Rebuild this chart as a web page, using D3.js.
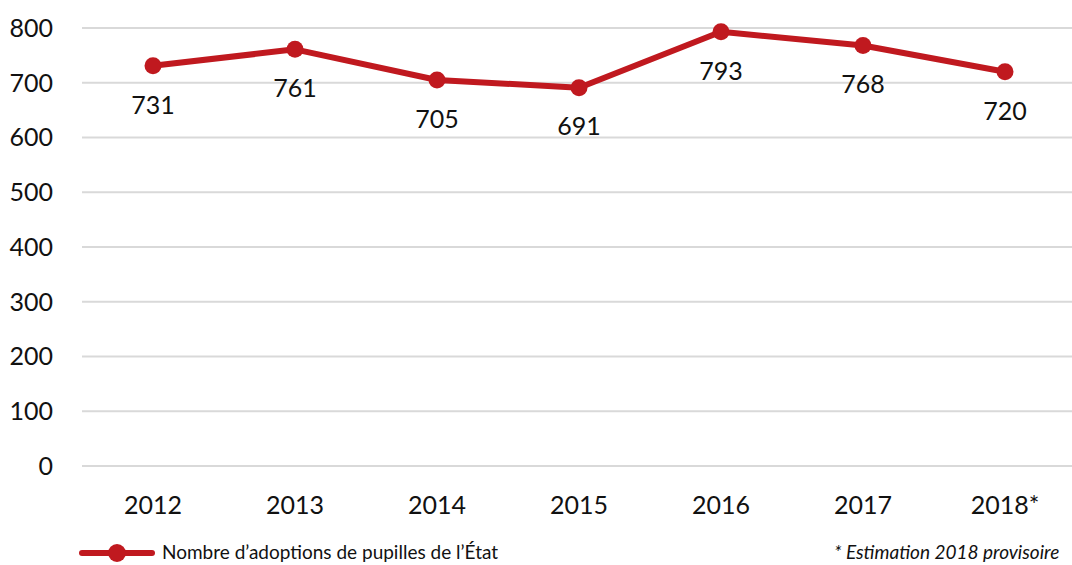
<!DOCTYPE html>
<html>
<head>
<meta charset="utf-8">
<script src="https://cdn.jsdelivr.net/npm/d3@7"></script>
<style>
  body { margin: 0; background: #fff; }
  text { font-family: Lato, "Open Sans", sans-serif; fill: #111; }
</style>
</head>
<body>
<script>
var w = 1072;
var h = 565;

// data
var years = ["2012", "2013", "2014", "2015", "2016", "2017", "2018*"];
var adoptions = [731, 761, 705, 691, 793, 768, 720];
var yTicks = [0, 100, 200, 300, 400, 500, 600, 700, 800];
var seriesName = "Nombre d\u2019adoptions de pupilles de l\u2019\u00c9tat";
var footnote = "* Estimation 2018 provisoire";

var red = "#c0191f";

var svg = d3.select("body").append("svg")
  .attr("width", w)
  .attr("height", h);

var x = d3.scaleBand()
  .domain(years)
  .range([82, 82 + 7 * 142]);

var y = d3.scaleLinear()
  .domain([0, 800])
  .range([466, 28]);

// gridlines
svg.append("g").selectAll("line")
  .data(yTicks)
  .enter().append("line")
  .attr("x1", 82).attr("x2", 1080)
  .attr("y1", function(d) { return y(d); })
  .attr("y2", function(d) { return y(d); })
  .attr("stroke", "#d9d9d9")
  .attr("stroke-width", 2);

// y axis labels
svg.append("g").selectAll("text")
  .data(yTicks)
  .enter().append("text")
  .attr("x", 53)
  .attr("y", function(d) { return y(d); })
  .attr("dy", "0.35em")
  .attr("text-anchor", "end")
  .style("font-size", "25px")
  .text(function(d) { return d; });

// x axis labels
svg.append("g").selectAll("text")
  .data(years)
  .enter().append("text")
  .attr("x", function(d) { return x(d) + x.bandwidth() / 2; })
  .attr("y", 505)
  .attr("dy", "0.35em")
  .attr("text-anchor", "middle")
  .style("font-size", "25px")
  .text(function(d) { return d; });

var line = d3.line()
  .x(function(d, i) { return x(years[i]) + x.bandwidth() / 2; })
  .y(function(d) { return y(d); });

svg.append("path")
  .datum(adoptions)
  .attr("d", line)
  .attr("fill", "none")
  .attr("stroke", red)
  .attr("stroke-width", 6)
  .attr("stroke-linejoin", "round");

svg.append("g").selectAll("circle")
  .data(adoptions)
  .enter().append("circle")
  .attr("cx", function(d, i) { return x(years[i]) + x.bandwidth() / 2; })
  .attr("cy", function(d) { return y(d); })
  .attr("r", 8.5)
  .attr("fill", red);

// value labels
svg.append("g").selectAll("text")
  .data(adoptions)
  .enter().append("text")
  .attr("x", function(d, i) { return x(years[i]) + x.bandwidth() / 2; })
  .attr("y", function(d) { return y(d) + 39; })
  .attr("dy", "0.35em")
  .attr("text-anchor", "middle")
  .style("font-size", "25px")
  .text(function(d) { return d; });

// legend
var lg = svg.append("g");
lg.append("line")
  .attr("x1", 82).attr("x2", 152)
  .attr("y1", 553).attr("y2", 553)
  .attr("stroke", red)
  .attr("stroke-width", 6)
  .attr("stroke-linecap", "round");
lg.append("circle")
  .attr("cx", 117).attr("cy", 553).attr("r", 9)
  .attr("fill", red);
lg.append("text")
  .attr("x", 162).attr("y", 552)
  .attr("dy", "0.35em")
  .style("font-size", "19px")
  .text(seriesName);

svg.append("text")
  .attr("x", 834).attr("y", 552)
  .attr("dy", "0.35em")
  .style("font-size", "19px")
  .style("font-style", "italic")
  .text(footnote);
</script>
</body>
</html>
